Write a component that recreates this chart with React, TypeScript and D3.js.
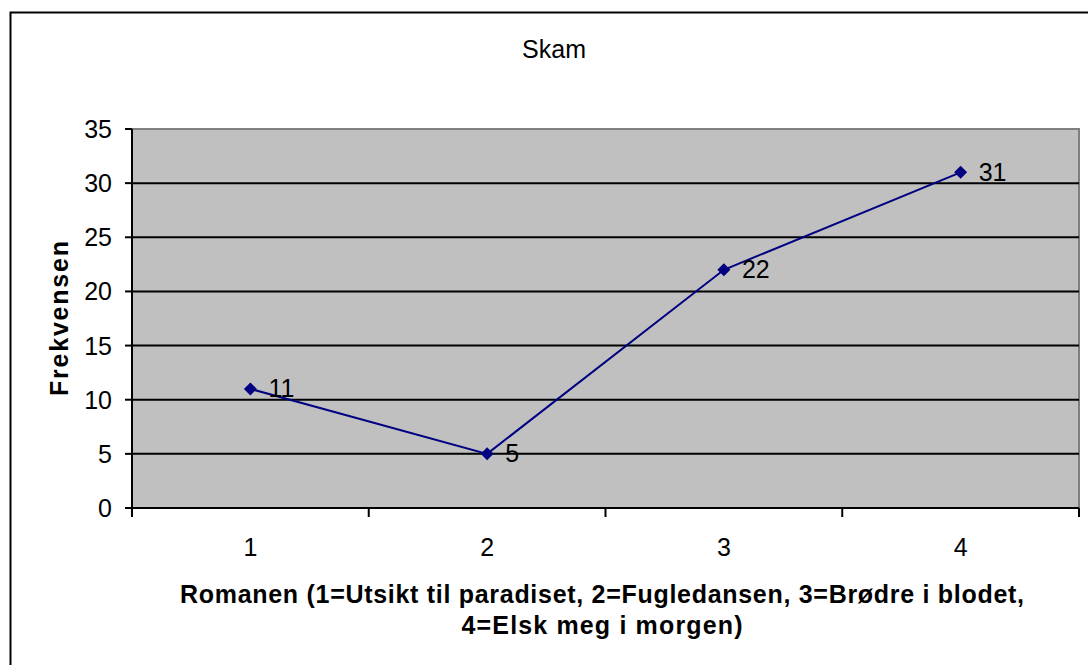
import React from 'react';
import * as d3 from 'd3';

// Data
const categories = ['1', '2', '3', '4'];
const values = [11, 5, 22, 31];
const yTicks = [0, 5, 10, 15, 20, 25, 30, 35];
const title = 'Skam';
const yTitle = 'Frekvensen';
const xTitleLines = [
  'Romanen (1=Utsikt til paradiset, 2=Fugledansen, 3=Brødre i blodet,',
  '4=Elsk meg i morgen)',
];

const W = 1088, H = 665;
const plot = { left: 132, top: 129, right: 1079, bottom: 508 };
const font = 'Arial, "Liberation Sans", sans-serif';
const fs = 25;

export default function App() {
  const x = d3.scaleBand().domain(categories).range([plot.left, plot.right]);
  const y = d3.scaleLinear().domain([0, 35]).range([plot.bottom, plot.top]);
  const cx = (c: string) => (x(c) ?? 0) + x.bandwidth() / 2;

  const line = d3.line<number>()
    .x((_, i) => cx(categories[i]))
    .y(d => y(d));

  const bounds = [...categories.map(c => x(c) ?? 0), plot.right];
  const diamond = 'M0,-6.5L6.5,0L0,6.5L-6.5,0Z';
  const titleWidths = [844, 281];

  return (
    <svg width={W} height={H} style={{ position: 'absolute', left: 0, top: 0, background: '#fff' }} fontFamily={font}>
      <rect x={10.5} y={12.5} width={1100} height={700} fill="#fff" stroke="#000" strokeWidth={2} />
      <text x={554} y={58} textAnchor="middle" fontSize={fs}>{title}</text>

      {/* plot area */}
      <rect x={plot.left} y={plot.top} width={plot.right - plot.left} height={plot.bottom - plot.top}
        fill="#C0C0C0" stroke="#808080" strokeWidth={2} />

      {yTicks.filter(t => t > 0 && t < 35).map(t => (
        <line key={t} x1={plot.left} x2={plot.right} y1={y(t)} y2={y(t)} stroke="#000" strokeWidth={2} />
      ))}

      {/* y axis */}
      <line x1={plot.left} x2={plot.left} y1={plot.top} y2={plot.bottom} stroke="#000" strokeWidth={2} />
      {yTicks.map(t => (
        <g key={t}>
          <line x1={plot.left - 7} x2={plot.left} y1={y(t)} y2={y(t)} stroke="#000" strokeWidth={2} />
          <text x={112} y={y(t) + 9} textAnchor="end" fontSize={fs}>{t}</text>
        </g>
      ))}

      {/* x axis */}
      <line x1={plot.left} x2={plot.right} y1={plot.bottom} y2={plot.bottom} stroke="#000" strokeWidth={2} />
      {bounds.map((b, i) => (
        <line key={i} x1={b} x2={b} y1={plot.bottom} y2={plot.bottom + 9} stroke="#000" strokeWidth={2} />
      ))}
      {categories.map(c => (
        <text key={c} x={cx(c)} y={556} textAnchor="middle" fontSize={fs}>{c}</text>
      ))}

      {/* series */}
      <path d={line(values) ?? ''} fill="none" stroke="#000080" strokeWidth={2} />
      {values.map((v, i) => (
        <g key={i}>
          <path d={diamond} transform={`translate(${cx(categories[i])},${y(v)})`} fill="#000080" />
          <text x={cx(categories[i]) + 18} y={y(v) + 8.5} fontSize={fs}>{v}</text>
        </g>
      ))}

      {/* axis titles */}
      <text transform={`translate(68,${(plot.top + plot.bottom) / 2}) rotate(-90)`} textAnchor="middle"
        fontSize={fs} fontWeight="bold" textLength={155} lengthAdjust="spacing">{yTitle}</text>
      {xTitleLines.map((l, i) => (
        <text key={i} x={602} y={603 + i * 31} textAnchor="middle" fontSize={fs} fontWeight="bold"
          textLength={titleWidths[i]} lengthAdjust="spacing">{l}</text>
      ))}
    </svg>
  );
}
